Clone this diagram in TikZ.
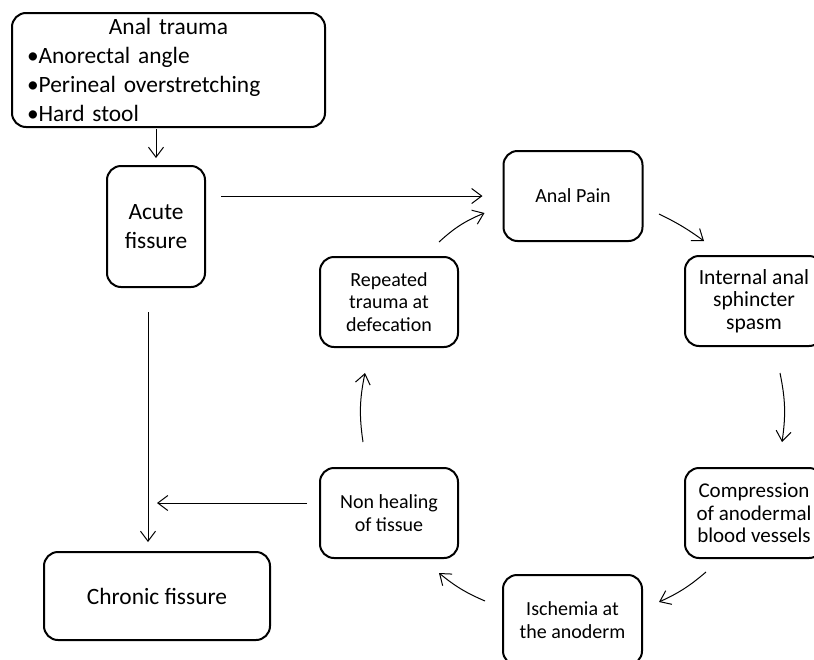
\documentclass[tikz,border=0pt]{standalone}
\usepackage{fontspec}
\setmainfont{Carlito}
\usetikzlibrary{arrows.meta, calc}

\begin{document}
\begin{tikzpicture}[x=0.5pt, y=-0.5pt,
    box/.style={draw, line width=1pt, rounded corners=7pt, align=center, inner sep=0pt,
        minimum width=69pt, minimum height=45pt, font=\fontsize{10}{11.25}\selectfont},
    bigbox/.style={box, font=\fontsize{11.7}{14.4}\selectfont},
    arr/.style={-{Straight Barb[length=5pt, width=7.5pt]}, line width=0.5pt}]
\useasboundingbox (0,0) rectangle (814,659);
\clip (0,0) rectangle (814,659);

% Left column
\node[bigbox, minimum width=156.5pt, minimum height=57pt, text width=141.5pt, align=left] (trauma) at (168.5,70)
    {\makebox[141.5pt]{Anal trauma}\\•Anorectal angle\\•Perineal overstretching\\•Hard stool};
\node[bigbox, minimum width=49pt, minimum height=60.5pt] (acute) at (156,226.5) {Acute\\fissure};
\node[bigbox, minimum width=113pt, minimum height=44pt] (chronic) at (157,596) {Chronic fissure};

% Cycle
\node[box, minimum width=69.5pt] (pain) at (573,196) {Anal Pain};
\node[box, font=\fontsize{10.8}{11.25}\selectfont] (internal) at (754,301) {Internal anal\\sphincter\\spasm};
\node[box, font=\fontsize{10.5}{11.25}\selectfont] (compress) at (754,513) {Compression\\of anodermal\\blood vessels};
\node[box, minimum width=69.5pt] (ischemia) at (572.5,620) {Ischemia at\\the anoderm};
\node[box] (nonheal) at (389,513) {Non healing\\of tissue};
\node[box] (repeated) at (389,302) {Repeated\\trauma at\\defecation};

% Arrows
\draw[arr, shorten <=0.5pt, shorten >=3.5pt] (acute.north |- trauma.south) -- (acute.north);
\draw[arr, shorten <=7.5pt, shorten >=10pt] (acute.east |- pain.west) -- (pain.west);
\draw[arr, shorten <=12pt, shorten >=4.5pt] ([shift={(-8,0)}]acute.south) -- ([shift={(-8,0)}]acute.south |- chronic.north);
\draw[arr, shorten <=6pt] ([shift={(0,-10)}]nonheal.west) -- ([shift={(0,-10)}]nonheal.west -| chronic.north);

\draw[arr] ([shift={(15.5,18)}]pain.east) to[bend left=5] ([shift={(20,-14)}]internal.north west);
\draw[arr] ([shift={(26,26)}]internal.south) to[bend left=10] ([shift={(28,-25)}]compress.north);
\draw[arr] ([shift={(22,13)}]compress.south west) to[bend left=8] ([shift={(16,-18)}]ischemia.east);
\draw[arr] ([shift={(-17,-19)}]ischemia.west) to[bend left=8] ([shift={(-20,14)}]nonheal.south east);
\draw[arr] ([shift={(-26,-25)}]nonheal.north) to[bend left=10] ([shift={(-24,25)}]repeated.south);
\draw[arr] ([shift={(-20,-14)}]repeated.north east) to[bend left=10] ([shift={(-18,17)}]pain.west);

\end{tikzpicture}
\end{document}
